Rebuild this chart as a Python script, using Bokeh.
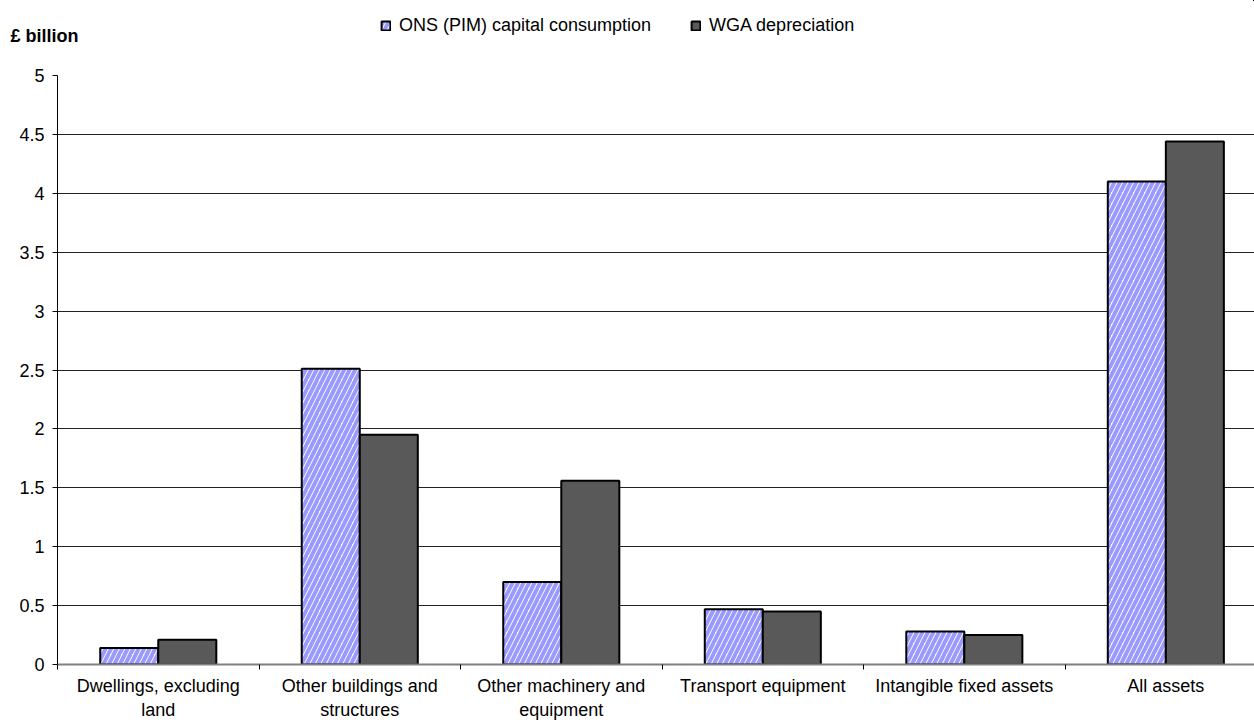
from bokeh.plotting import figure
from bokeh.layouts import column
from bokeh.models import ColumnDataSource, FixedTicker, Legend, LegendItem, Range1d, Label
from bokeh.transform import dodge
from bokeh.embed import file_html
from bokeh.resources import INLINE

categories = ["Dwellings, excluding\nland", "Other buildings and\nstructures",
              "Other machinery and\nequipment", "Transport equipment",
              "Intangible fixed assets", "All assets"]
ons_pim = [0.14, 2.51, 0.70, 0.47, 0.28, 4.10]
wga_dep = [0.21, 1.95, 1.56, 0.45, 0.25, 4.44]
y_ticks = [0, 0.5, 1, 1.5, 2, 2.5, 3, 3.5, 4, 4.5, 5]
series_names = ["ONS (PIM) capital consumption", "WGA depreciation"]
unit_label = "£ billion"

FONT = "Liberation Sans"
FS = "18px"
n = len(categories)
centers = [i + 0.5 for i in range(n)]
src = ColumnDataSource(dict(x=centers, ons=ons_pim, wga=wga_dep))

ons_style = dict(fill_color="white", hatch_pattern="right_diagonal_line", hatch_color="#9999ff",
                 hatch_scale=11, hatch_weight=4, line_color="black", line_width=2)
wga_style = dict(fill_color="#595959", line_color="black", line_width=2)

HEADER_H = 60
# ---------- header (unit label + legend) ----------
h = figure(width=1254, height=HEADER_H, output_backend="svg", toolbar_location=None,
           x_axis_type=None, y_axis_type=None, x_range=Range1d(-100, -99),
           y_range=Range1d(-100, -99), min_border=0)
h.frame_align = False
h.outline_line_color = None
h.xgrid.grid_line_color = None
h.ygrid.grid_line_color = None
e1 = h.vbar(x="x", top="ons", width=0.1, source=src, **ons_style)
e2 = h.vbar(x="x", top="wga", width=0.1, source=src, **wga_style)
legend = Legend(items=[LegendItem(label=series_names[0], renderers=[e1]),
                       LegendItem(label=series_names[1], renderers=[e2])],
                orientation="horizontal", location=(380, 24),
                label_text_font=FONT, label_text_font_size=FS, label_text_color="black",
                glyph_width=11, glyph_height=11, label_standoff=8, spacing=39,
                border_line_color=None, background_fill_alpha=0, margin=0, padding=4)
h.add_layout(legend)
h.add_layout(Label(x=10, y=25, x_units="screen", y_units="screen", text=unit_label,
                   text_font=FONT, text_font_size=FS, text_font_style="bold",
                   text_color="black", text_baseline="middle"))

# ---------- main chart ----------
p = figure(width=1254, height=722 - HEADER_H, output_backend="svg", toolbar_location=None,
           x_range=Range1d(0, 5.94), y_range=Range1d(0, 5),
           min_border_left=57, min_border_right=0, min_border_top=75 - HEADER_H,
           min_border_bottom=58)
p.frame_align = False
p.outline_line_color = None
p.background_fill_color = "white"
p.border_fill_color = "white"

bw = 0.288
p.vbar(x=dodge("x", -bw / 2, range=p.x_range), top="ons", width=bw, source=src, **ons_style)
p.vbar(x=dodge("x", bw / 2, range=p.x_range), top="wga", width=bw, source=src, **wga_style)

p.xgrid.grid_line_color = None
p.ygrid.ticker = FixedTicker(ticks=y_ticks)
p.ygrid.grid_line_color = "#222222"
p.ygrid.grid_line_width = 1

p.yaxis.ticker = FixedTicker(ticks=y_ticks)
p.yaxis.major_label_overrides = {t: ("%g" % t) for t in y_ticks}
p.yaxis.axis_line_color = "black"
p.yaxis.major_tick_in = 0
p.yaxis.major_tick_out = 5
p.yaxis.minor_tick_line_color = None
p.yaxis.major_label_text_font = FONT
p.yaxis.major_label_text_font_size = FS
p.yaxis.major_label_text_color = "black"
p.yaxis.major_label_standoff = 8

p.xaxis.ticker = FixedTicker(ticks=centers, minor_ticks=list(range(n + 1)))
p.xaxis.major_label_overrides = {c: lab for c, lab in zip(centers, categories)}
p.xaxis.major_tick_line_color = None
p.xaxis.minor_tick_in = 0
p.xaxis.minor_tick_out = 5
p.xaxis.minor_tick_line_color = "black"
p.xaxis.axis_line_color = "#808080"
p.xaxis.axis_line_width = 2
p.xaxis.major_label_text_font = FONT
p.xaxis.major_label_text_font_size = FS
p.xaxis.major_label_text_color = "black"
p.xaxis.major_label_standoff = 5

layout = column(h, p, spacing=0)
open("out.html", "w").write(file_html(layout, INLINE))
